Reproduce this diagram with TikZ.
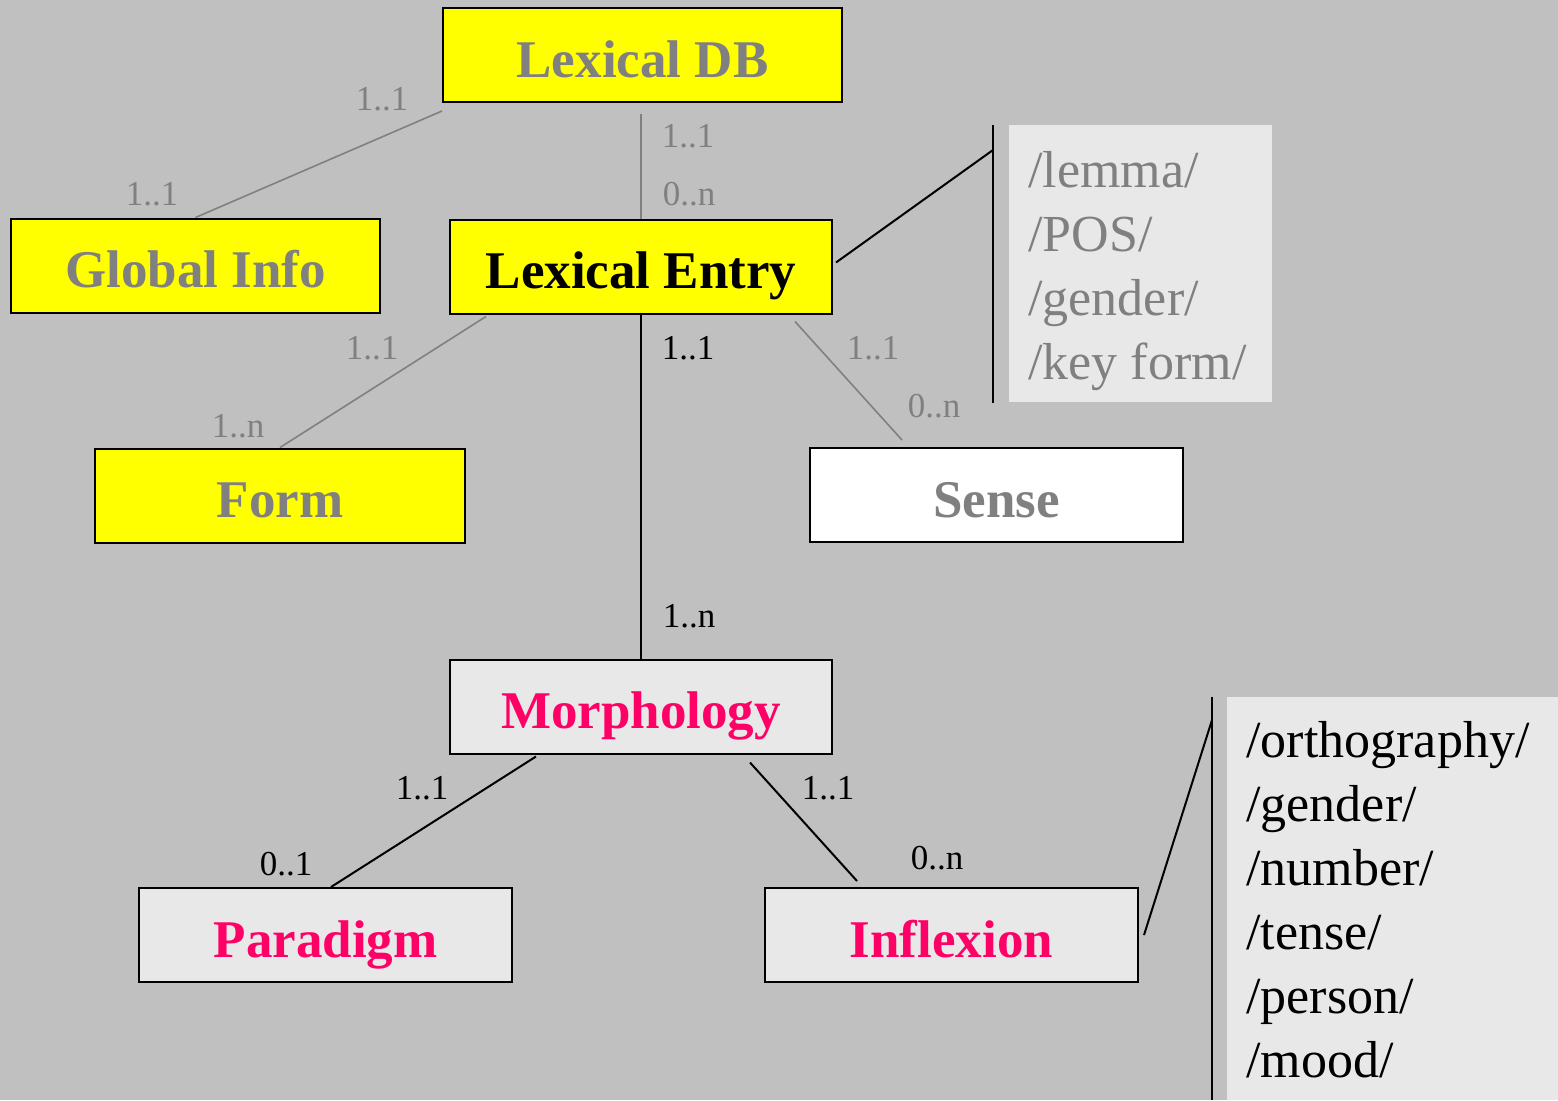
\documentclass[tikz,border=0pt]{standalone}
\usepackage{fontspec}
\setmainfont{Liberation Serif}
\definecolor{bgray}{HTML}{C0C0C0}
\definecolor{panelgray}{HTML}{E8E8E8}
\definecolor{txtgray}{HTML}{808080}
\definecolor{boxyellow}{HTML}{FFFF00}
\definecolor{hotpink}{HTML}{FF0066}
\tikzset{
  entity/.style={draw=black, line width=1pt, inner sep=0pt,
    minimum width=#1, minimum height=47pt,
    font=\fontsize{26.5}{30}\selectfont\bfseries,
    text height=22pt, text depth=0pt},
  entity/.default=186pt,
  yellowbox/.style={entity=#1, fill=boxyellow},
  yellowbox/.default=186pt,
  pinkbox/.style={entity=#1, fill=panelgray, text=hotpink},
  pinkbox/.default=186pt,
  card/.style={anchor=base, inner sep=0pt, font=\fontsize{17.5}{20}\selectfont},
  attr/.style={anchor=base west, inner sep=0pt, font=\fontsize{26}{30}\selectfont},
  panel/.style={fill=panelgray, inner sep=0pt, anchor=north west},
  greyline/.style={draw=txtgray, line width=0.8pt},
  blackline/.style={draw=black, line width=1pt},
}
\begin{document}
\begin{tikzpicture}[x=0.5pt, y=-0.5pt]
  % canvas
  \fill[bgray] (0,0) rectangle (1558,1100);
  \useasboundingbox (0,0) rectangle (1558,1100);

  % attribute panels
  \node[panel, minimum width=131.5pt, minimum height=138.5pt] (p1) at (1009,125) {};
  \node[panel, minimum width=165.5pt, minimum height=201.5pt] (p2) at (1227,697) {};
  \coordinate (b1top) at (993,125);
  \coordinate (b1bot) at (993,403);
  \coordinate (b1join) at (993,150);
  \coordinate (b2top) at (1212,697);
  \coordinate (b2bot) at (1212,1100);
  \coordinate (b2join) at (1212,720);
  \draw[blackline] (b1top) -- (b1bot);
  \draw[blackline] (b2top) -- (b2bot);

  % entities
  \node[yellowbox=199.5pt, text=txtgray] (db) at (642.5,55) {Lexical DB};
  \node[yellowbox=184.5pt, text=txtgray] (gi) at (195.5,265.5) {Global Info};
  \node[yellowbox=191pt, text=black] (le) at (641,266.5) {Lexical Entry};
  \node[yellowbox=185pt, text=txtgray] (fo) at (280,495.5) {Form};
  \node[entity=186.5pt, fill=white, text=txtgray] (se) at (996.5,495) {Sense};
  \node[pinkbox=191pt] (mo) at (641,706.5) {Morphology};
  \node[pinkbox=186.5pt] (pa) at (325.5,935) {Paradigm};
  \node[pinkbox=186.5pt] (in) at (951.5,935) {Inflexion};

  % connectors
  \draw[greyline] ([yshift=-4pt]db.south west) -- (gi.north);
  \draw[greyline] ([yshift=-5.5pt,xshift=-0.75pt]db.south) -- (le.north);
  \draw[blackline] ([xshift=1.5pt,yshift=2pt]le.east) -- (b1join);
  \draw[greyline] ([xshift=18.5pt,yshift=-1pt]le.south west) -- (fo.north);
  \draw[blackline] (le.south) -- (mo.north);
  \draw[greyline] ([xshift=-19pt,yshift=-3.5pt]le.south east) -- ([xshift=46.5pt,yshift=3.5pt]se.north west);
  \draw[blackline] ([xshift=43.5pt,yshift=-1pt]mo.south west) -- ([xshift=2.75pt]pa.north);
  \draw[blackline] ([xshift=-41.5pt,yshift=-4pt]mo.south east) -- ([xshift=46.5pt,yshift=3pt]in.north west);
  \draw[blackline] ([xshift=2.5pt]in.east) -- (b2join);

  % cardinalities
  \node[card, text=txtgray] (c1) at (382,110) {1..1};
  \node[card, text=txtgray] (c2) at (152,205) {1..1};
  \node[card, text=txtgray] (c3) at (688,147) {1..1};
  \node[card, text=txtgray] (c4) at (689,205) {0..n};
  \node[card, text=txtgray] (c5) at (372,359) {1..1};
  \node[card, text=txtgray] (c6) at (238,437) {1..n};
  \node[card, text=black] (c7) at (688,359) {1..1};
  \node[card, text=black] (c8) at (689,627) {1..n};
  \node[card, text=txtgray] (c9) at (873,359) {1..1};
  \node[card, text=txtgray] (c10) at (934,417) {0..n};
  \node[card, text=black] (c11) at (422,799) {1..1};
  \node[card, text=black] (c12) at (286,875) {0..1};
  \node[card, text=black] (c13) at (828,799) {1..1};
  \node[card, text=black] (c14) at (937,869) {0..n};

  % attributes of the lexical entry
  \node[attr, text=txtgray] (a1) at (1028,187) {/lemma/};
  \node[attr, text=txtgray] (a2) at (1028,251) {/POS/};
  \node[attr, text=txtgray] (a3) at (1028,315) {/gender/};
  \node[attr, text=txtgray] (a4) at (1028,379) {/key form/};

  % attributes of the inflexion
  \node[attr, text=black] (i1) at (1246,757) {/orthography/};
  \node[attr, text=black] (i2) at (1246,821) {/gender/};
  \node[attr, text=black] (i3) at (1246,885) {/number/};
  \node[attr, text=black] (i4) at (1246,949) {/tense/};
  \node[attr, text=black] (i5) at (1246,1013) {/person/};
  \node[attr, text=black] (i6) at (1246,1077) {/mood/};
\end{tikzpicture}
\end{document}
